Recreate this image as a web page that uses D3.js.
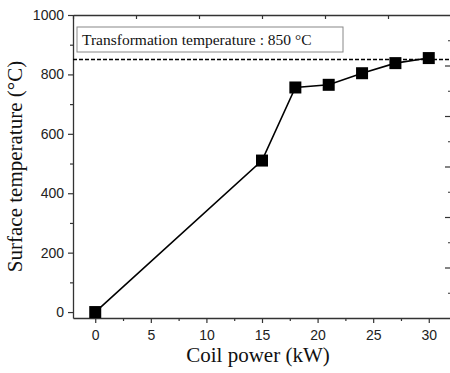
<!DOCTYPE html>
<html>
<head>
<meta charset="utf-8">
<script src="https://cdn.jsdelivr.net/npm/d3@7"></script>
<style>
  body { margin: 0; background: #fff; }
  svg { display: block; }
</style>
</head>
<body>
<svg id="chart" width="450" height="373"></svg>
<script>
// data
const power = [0, 15, 18, 21, 24, 27, 30];
const temperature = [0, 510, 756, 765, 804, 838, 855];
const xTicks = [0, 5, 10, 15, 20, 25, 30];
const yTicks = [0, 200, 400, 600, 800, 1000];
const transformTemp = 850;
const legendText = "Transformation temperature : 850 \u00B0C";

const w = 450, h = 373;
let mar = { top: 15, right: -1, bottom: 55, left: 73 };

const svg = d3.select("#chart");

const x = d3.scaleLinear().domain([-2, 32]).range([mar.left, w - mar.right]);
const y = d3.scaleLinear().domain([-20, 1000]).range([h - mar.bottom, mar.top]);

const axisColor = "#333";

// bottom axis: major + minor ticks
svg.append("g")
  .attr("transform", "translate(0," + (h - mar.bottom) + ")")
  .call(d3.axisBottom(x).tickValues(xTicks).tickSize(5).tickSizeOuter(0).tickPadding(7).tickFormat(d3.format("d")));
svg.append("g")
  .attr("transform", "translate(0," + (h - mar.bottom) + ")")
  .call(d3.axisBottom(x).tickValues(xTicks.map(d => d + 2.5)).tickSize(3).tickFormat(""))
  .select(".domain").remove();

// left axis
svg.append("g")
  .attr("transform", "translate(" + mar.left + ",0)")
  .call(d3.axisLeft(y).tickValues(yTicks).tickSize(5).tickSizeOuter(0).tickPadding(4).tickFormat(d3.format("d")));
svg.append("g")
  .attr("transform", "translate(" + mar.left + ",0)")
  .call(d3.axisLeft(y).tickValues(yTicks.slice(0, -1).map(d => d + 100)).tickSize(3).tickFormat(""))
  .select(".domain").remove();

// top axis (mirror, own tick spacing)
const xTop = d3.scaleLinear().domain([0, 6]).range(x.range());
svg.append("g")
  .attr("transform", "translate(0," + mar.top + ")")
  .call(d3.axisBottom(xTop).ticks(6).tickSize(4).tickSizeOuter(0).tickFormat(""));

// right axis ticks (mirror, own tick spacing)
const yRight = d3.scaleLinear().domain([0, 12]).range(y.range());
svg.append("g")
  .attr("transform", "translate(" + x.range()[1] + ",0)")
  .call(d3.axisLeft(yRight).tickValues(d3.range(1, 12)).tickSize(0).tickFormat(""))
  .call(g => g.selectAll(".tick line").attr("x2", (d) => d % 2 === 0 ? -6 : -3));

svg.selectAll(".domain").attr("stroke", axisColor).attr("stroke-width", 1.3);
svg.selectAll(".tick line").attr("stroke", axisColor).attr("stroke-width", 1.2);
svg.selectAll(".tick text")
  .attr("font-family", "Liberation Sans, Arial, sans-serif")
  .attr("font-size", 14)
  .attr("fill", "#222");

// threshold dashed line
svg.append("line")
  .attr("x1", mar.left)
  .attr("x2", x.range()[1])
  .attr("y1", y(transformTemp))
  .attr("y2", y(transformTemp))
  .attr("stroke", "#000")
  .attr("stroke-width", 1.4)
  .attr("stroke-dasharray", "4,2");

// legend box
svg.append("rect")
  .attr("x", 77).attr("y", 27)
  .attr("width", 266).attr("height", 25)
  .attr("fill", "#fff")
  .attr("stroke", "#888")
  .attr("stroke-width", 1);
svg.append("text")
  .attr("x", 82).attr("y", 45)
  .attr("font-family", "Liberation Serif, Times New Roman, serif")
  .attr("font-size", 15.5)
  .attr("fill", "#111")
  .text(legendText);

// series line
const pts = power.map((p, i) => [p, temperature[i]]);
svg.append("path")
  .datum(pts)
  .attr("fill", "none")
  .attr("stroke", "#000")
  .attr("stroke-width", 1.6)
  .attr("d", d3.line().x(d => x(d[0])).y(d => y(d[1])));

// square markers
const ms = 12;
svg.selectAll(".pt")
  .data(pts)
  .enter().append("rect")
  .attr("class", "pt")
  .attr("x", d => x(d[0]) - ms / 2)
  .attr("y", d => y(d[1]) - ms / 2)
  .attr("width", ms)
  .attr("height", ms)
  .attr("fill", "#000");

// axis titles
svg.append("text")
  .attr("x", (mar.left + 443) / 2)
  .attr("y", 362)
  .attr("text-anchor", "middle")
  .attr("font-family", "Liberation Serif, Times New Roman, serif")
  .attr("font-size", 21)
  .attr("fill", "#111")
  .text("Coil power (kW)");

svg.append("text")
  .attr("transform", "translate(22," + ((mar.top + h - mar.bottom) / 2) + ") rotate(-90)")
  .attr("text-anchor", "middle")
  .attr("font-family", "Liberation Serif, Times New Roman, serif")
  .attr("font-size", 21)
  .attr("fill", "#111")
  .text("Surface temperature (\u00B0C)");
</script>
</body>
</html>
